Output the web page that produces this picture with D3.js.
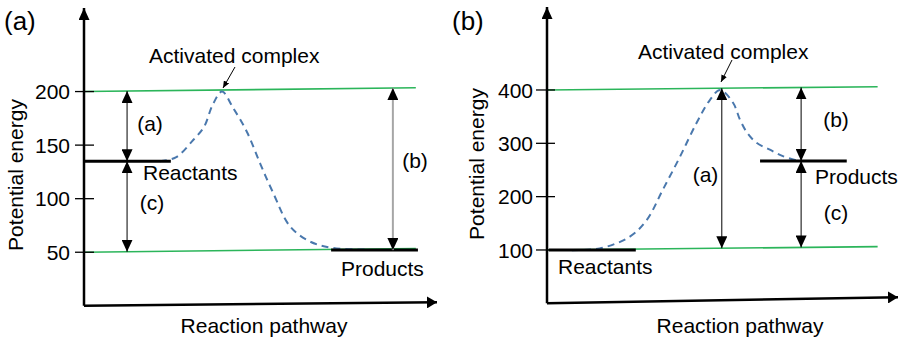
<!DOCTYPE html>
<html>
<head>
<meta charset="utf-8">
<script src="https://cdn.jsdelivr.net/npm/d3@7"></script>
<style>
  body { margin: 0; background: #fff; }
  text { font-family: "Liberation Sans", Arial, sans-serif; fill: #000; }
</style>
</head>
<body>
<svg width="903" height="342"></svg>
<script>
// ---- panel (a): exothermic ----
const ticksA = [50, 100, 150, 200];
const levelsA = [200, 50];
const reactantsA = 135;
const productsA = 52;
const pathXA = [21.5, 26, 31, 34, 36.5, 39.1, 42.2, 46.2, 50, 53.5, 58.4, 64, 70.5, 81];
const pathEA = [135, 138.5, 155, 167, 188, 200, 185, 162, 132, 106, 74, 60, 54, 52.5];
const arrowXA = [12.2, 12.2, 87.5];
const arrowFromA = [200, 135, 200];
const arrowToA = [135, 50, 52];
const arrowLabelA = ["(a)", "(c)", "(b)"];

// ---- panel (b): endothermic ----
const ticksB = [100, 200, 300, 400];
const levelsB = [400, 100];
const reactantsB = 100;
const productsB = 267;
const pathXB = [3.7, 15, 23.6, 28.4, 33, 37.9, 42.6, 46.4, 49.3, 53, 55, 57, 59.7, 63.5, 67.2, 71.1];
const pathEB = [100, 103, 125, 156, 213, 275, 338, 381, 400, 376, 344, 320, 301, 288, 276, 268];
const arrowXB = [49.8, 72.4, 72.4];
const arrowFromB = [400, 400, 267];
const arrowToB = [100, 267, 100];
const arrowLabelB = ["(a)", "(b)", "(c)"];

const svg = d3.select("svg");
const defs = svg.append("defs");

function marker(id, w, h) {
  defs.append("marker")
    .attr("id", id)
    .attr("viewBox", `0 0 ${w} ${h}`)
    .attr("refX", w).attr("refY", h / 2)
    .attr("markerWidth", w).attr("markerHeight", h)
    .attr("markerUnits", "userSpaceOnUse")
    .attr("orient", "auto-start-reverse")
    .append("path")
    .attr("d", `M0,0L${w},${h / 2}L0,${h}Z`)
    .attr("fill", "#000");
}
marker("head", 12, 11);
marker("axisHead", 10, 12);
marker("small", 7, 6);

let panels = [
  {
    name: "(a)", ticks: ticksA, levels: levelsA, reactants: reactantsA, products: productsA,
    pathX: pathXA, pathE: pathEA, arrowX: arrowXA, arrowFrom: arrowFromA, arrowTo: arrowToA, arrowLabel: arrowLabelA,
    x0: 84, x1: 437, yDomain: [0, 278], yRange: [305.8, 8], tilt: 4, axisTilt: 3.5,
    levelEnd: 94, reactSpan: [0, 24.6], prodSpan: [70, 94.6],
    tickL: 9, tickR: 10, labelGap: 5, grayArrow: 2,
    labelPos: [[150, 131], [152, 210], [415, 168]],
    nameXY: [4, 30], yTitleXY: [23, 175], xTitleXY: [264, 333],
    complexXY: [149, 63], complexArrow: [235, 67, 223, 88],
    reactXY: [143, 180], prodXY: [341, 276]
  },
  {
    name: "(b)", ticks: ticksB, levels: levelsB, reactants: reactantsB, products: productsB,
    pathX: pathXB, pathE: pathEB, arrowX: arrowXB, arrowFrom: arrowFromB, arrowTo: arrowToB, arrowLabel: arrowLabelB,
    x0: 547, x1: 898, yDomain: [0, 555.6], yRange: [303.3, 7], tilt: 3.5, axisTilt: 6,
    levelEnd: 94.2, reactSpan: [0.5, 25.3], prodSpan: [60.7, 85.4],
    tickL: 11, tickR: 8, labelGap: 3, grayArrow: -1,
    labelPos: [[705.5, 182], [836, 127], [836, 220]],
    nameXY: [452, 30], yTitleXY: [484, 164], xTitleXY: [740, 333],
    complexXY: [638, 59], complexArrow: [732, 60, 721, 82],
    reactXY: [558, 274], prodXY: [815, 184]
  }
];

panels.forEach(drawPanel);

function drawPanel(p) {
  let g = svg.append("g");
  let x = d3.scaleLinear().domain([0, 100]).range([p.x0, p.x1]);
  let y = d3.scaleLinear().domain(p.yDomain).range(p.yRange);
  let ly = (E, u) => y(E) - (p.levels.includes(E) ? (p.tilt * u) / 100 : 0);

  // green guide lines
  g.selectAll(".level")
    .data(p.levels)
    .join("line")
    .attr("x1", x(0)).attr("y1", (d) => ly(d, 0))
    .attr("x2", x(p.levelEnd)).attr("y2", (d) => ly(d, p.levelEnd))
    .style("stroke", "#2bb55a")
    .style("stroke-width", 1.6);

  // ticks + labels
  g.selectAll(".tick")
    .data(p.ticks)
    .join("line")
    .attr("x1", p.x0 - p.tickL).attr("x2", p.x0 + p.tickR)
    .attr("y1", (d) => y(d)).attr("y2", (d) => y(d))
    .style("stroke", "#000")
    .style("stroke-width", 1.3);

  g.selectAll(".tlabel")
    .data(p.ticks)
    .join("text")
    .attr("x", p.x0 - p.tickL - p.labelGap)
    .attr("y", (d) => y(d))
    .attr("dy", "0.36em")
    .attr("text-anchor", "end")
    .style("font-size", "21px")
    .text((d) => d);

  // dashed energy profile
  let line = d3.line()
    .x((d) => x(d[0]))
    .y((d) => y(d[1]))
    .curve(d3.curveCatmullRom.alpha(0.5));
  g.append("path")
    .datum(d3.zip(p.pathX, p.pathE))
    .attr("d", line)
    .style("fill", "none")
    .style("stroke", "#4a78ad")
    .style("stroke-width", 2)
    .style("stroke-dasharray", "7,5");

  // reactant / product levels
  g.selectAll(".state")
    .data([[p.reactants, p.reactSpan], [p.products, p.prodSpan]])
    .join("line")
    .attr("x1", (d) => x(d[1][0])).attr("x2", (d) => x(d[1][1]))
    .attr("y1", (d) => y(d[0])).attr("y2", (d) => y(d[0]))
    .style("stroke", "#000")
    .style("stroke-width", 3);

  // double-headed arrows
  g.selectAll(".arrow")
    .data(p.arrowX)
    .join("line")
    .attr("x1", (d) => x(d)).attr("x2", (d) => x(d))
    .attr("y1", (d, i) => ly(p.arrowFrom[i], d))
    .attr("y2", (d, i) => ly(p.arrowTo[i], d))
    .attr("marker-start", "url(#head)")
    .attr("marker-end", "url(#head)")
    .style("stroke", (d, i) => (i === p.grayArrow ? "#a6a6a6" : "#000"))
    .style("stroke-width", (d, i) => (i === p.grayArrow ? 2 : 1));

  g.selectAll(".alabel")
    .data(p.arrowLabel)
    .join("text")
    .attr("x", (d, i) => p.labelPos[i][0])
    .attr("y", (d, i) => p.labelPos[i][1])
    .attr("text-anchor", "middle")
    .style("font-size", "21px")
    .text((d) => d);

  // axes
  g.append("line")
    .attr("x1", p.x0).attr("y1", p.yRange[0])
    .attr("x2", p.x0).attr("y2", p.yRange[1])
    .attr("marker-end", "url(#head)")
    .style("stroke", "#000")
    .style("stroke-width", 2.5);
  g.append("line")
    .attr("x1", p.x0).attr("y1", p.yRange[0])
    .attr("x2", p.x1).attr("y2", p.yRange[0] - p.axisTilt)
    .attr("marker-end", "url(#axisHead)")
    .style("stroke", "#000")
    .style("stroke-width", 2.5);

  // annotations
  let ca = p.complexArrow;
  g.append("line")
    .attr("x1", ca[0]).attr("y1", ca[1])
    .attr("x2", ca[2]).attr("y2", ca[3])
    .attr("marker-end", "url(#small)")
    .style("stroke", "#000")
    .style("stroke-width", 1);

  g.append("text").attr("x", p.complexXY[0]).attr("y", p.complexXY[1])
    .style("font-size", "21px").text("Activated complex");
  g.append("text").attr("x", p.reactXY[0]).attr("y", p.reactXY[1])
    .style("font-size", "21px").text("Reactants");
  g.append("text").attr("x", p.prodXY[0]).attr("y", p.prodXY[1])
    .style("font-size", "21px").text("Products");

  g.append("text").attr("x", p.nameXY[0]).attr("y", p.nameXY[1])
    .style("font-size", "26px").text(p.name);

  g.append("text")
    .attr("transform", `translate(${p.yTitleXY[0]},${p.yTitleXY[1]}) rotate(-90)`)
    .attr("text-anchor", "middle")
    .style("font-size", "21px")
    .text("Potential energy");

  g.append("text")
    .attr("x", p.xTitleXY[0]).attr("y", p.xTitleXY[1])
    .attr("text-anchor", "middle")
    .style("font-size", "21px")
    .text("Reaction pathway");
}
</script>
</body>
</html>
